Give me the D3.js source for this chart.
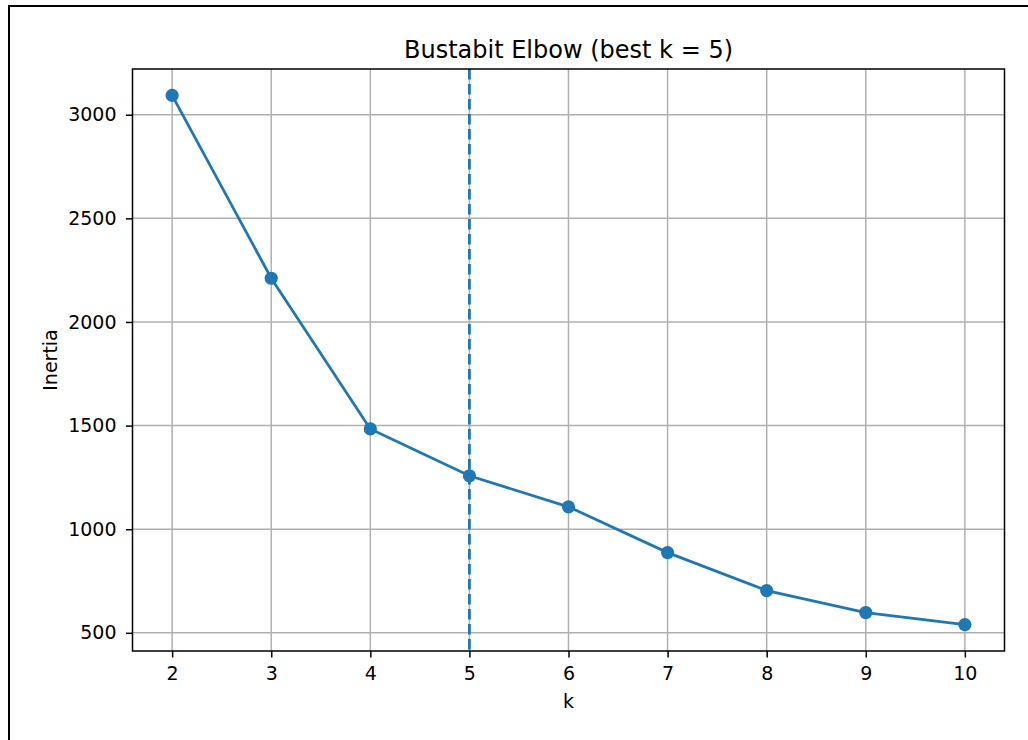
<!DOCTYPE html>
<html>
<head>
<meta charset="utf-8">
<script src="https://cdn.jsdelivr.net/npm/d3@7"></script>
<style>
  body { margin: 0; background: #fff; overflow: hidden; }
  text { font-family: "DejaVu Sans", sans-serif; fill: #000; }
</style>
</head>
<body>
<div id="chart"></div>
<script>
// data
const ks = [2, 3, 4, 5, 6, 7, 8, 9, 10];
const inertia = [3093, 2211, 1484, 1258, 1108, 887, 704, 598, 540];
const bestK = 5;
const yTicks = [500, 1000, 1500, 2000, 2500, 3000];

const W = 1028, H = 740;
const margin = { top: 69, right: 23.5, bottom: 89, left: 132.5 },
  width = W - margin.left - margin.right,
  height = H - margin.top - margin.bottom;

const svg = d3.select("#chart")
  .append("svg")
  .attr("width", W)
  .attr("height", H);

// outer frame (figure border)
svg.append("rect")
  .attr("x", 9).attr("y", 6)
  .attr("width", 1200).attr("height", 900)
  .attr("fill", "none")
  .attr("stroke", "#000")
  .attr("stroke-width", 2);

const g = svg.append("g")
  .attr("transform", `translate(${margin.left},${margin.top})`);

// matplotlib-style 5% margins
const xPad = (d3.max(ks) - d3.min(ks)) * 0.05;
const x = d3.scaleLinear()
  .domain([d3.min(ks) - xPad, d3.max(ks) + xPad])
  .range([0, width]);
const yPad = (d3.max(inertia) - d3.min(inertia)) * 0.05;
const y = d3.scaleLinear()
  .domain([d3.min(inertia) - yPad, d3.max(inertia) + yPad])
  .range([height, 0]);

// grid
g.append("g")
  .selectAll("line")
  .data(ks)
  .join("line")
  .attr("x1", d => x(d)).attr("x2", d => x(d))
  .attr("y1", 0).attr("y2", height)
  .attr("stroke", "#b0b0b0").attr("stroke-width", 1.5);
g.append("g")
  .selectAll("line")
  .data(yTicks)
  .join("line")
  .attr("x1", 0).attr("x2", width)
  .attr("y1", d => y(d)).attr("y2", d => y(d))
  .attr("stroke", "#b0b0b0").attr("stroke-width", 1.5);

// axes
const xAxis = g.append("g")
  .attr("transform", `translate(0,${height})`)
  .call(d3.axisBottom(x).tickValues(ks).tickFormat(d3.format("d")).tickSize(6.5).tickPadding(9));
const yAxis = g.append("g")
  .call(d3.axisLeft(y).tickValues(yTicks).tickFormat(d3.format("d")).tickSize(6.5).tickPadding(9.5));
[xAxis, yAxis].forEach(a => {
  a.select(".domain").remove();
  a.selectAll(".tick line").attr("stroke", "#000").attr("stroke-width", 1.5);
  a.selectAll("text").style("font-size", "19px").style("font-family", "DejaVu Sans");
});
xAxis.selectAll("text").attr("dy", "0.73em");

// best k marker
g.append("line")
  .attr("x1", x(bestK)).attr("x2", x(bestK))
  .attr("y1", 0).attr("y2", height)
  .attr("stroke", "#1f77b4")
  .attr("stroke-width", 2.8)
  .attr("stroke-dasharray", "10.5,4.5");

// line + points
const pts = ks.map((k, i) => [k, inertia[i]]);
g.append("path")
  .datum(pts)
  .attr("fill", "none")
  .attr("stroke", "#1f77b4")
  .attr("stroke-width", 2.8)
  .attr("d", d3.line().x(d => x(d[0])).y(d => y(d[1])));
g.selectAll(".pt")
  .data(pts)
  .join("circle")
  .attr("class", "pt")
  .attr("cx", d => x(d[0]))
  .attr("cy", d => y(d[1]))
  .attr("r", 6.6)
  .attr("fill", "#1f77b4");

// frame of the axes
g.append("rect")
  .attr("width", width).attr("height", height)
  .attr("fill", "none").attr("stroke", "#000").attr("stroke-width", 1.5);

// labels
g.append("text")
  .attr("x", width / 2).attr("y", -11)
  .attr("text-anchor", "middle")
  .style("font-size", "24px")
  .text("Bustabit Elbow (best k = " + bestK + ")");
g.append("text")
  .attr("x", width / 2).attr("y", height + 57)
  .attr("text-anchor", "middle")
  .style("font-size", "19px")
  .text("k");
g.append("text")
  .attr("transform", `translate(${-76},${height / 2})rotate(-90)`)
  .attr("text-anchor", "middle")
  .style("font-size", "19px")
  .text("Inertia");
</script>
</body>
</html>
